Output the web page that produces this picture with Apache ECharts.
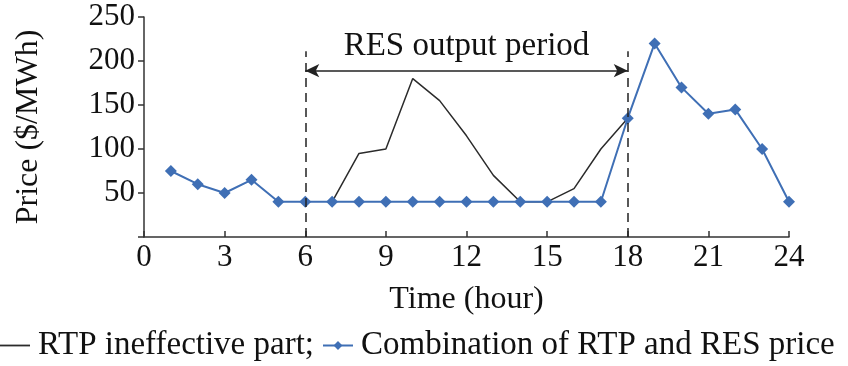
<!DOCTYPE html>
<html>
<head>
<meta charset="utf-8">
<script src="https://cdn.jsdelivr.net/npm/echarts@6/dist/echarts.min.js"></script>
<style>html,body{margin:0;padding:0;background:#fff;}#c{width:848px;height:366px;}</style>
</head>
<body>
<div id="c"></div>
<script>
const hoursRTP = [7, 8, 9, 10, 11, 12, 13, 14, 15, 16, 17, 18];
const rtpIneffective = [40, 95, 100, 180, 155, 115, 70, 40, 40, 55, 100, 135];
const hoursCombo = [1, 2, 3, 4, 5, 6, 7, 8, 9, 10, 11, 12, 13, 14, 15, 16, 17, 18, 19, 20, 21, 22, 23, 24];
const comboPrice = [75, 60, 50, 65, 40, 40, 40, 40, 40, 40, 40, 40, 40, 40, 40, 40, 40, 135, 220, 170, 140, 145, 100, 40];
const resStart = 6, resEnd = 18, dashTop = 211, arrowLevel = 189;
const annotation = 'RES output period';
const seriesNames = ['RTP ineffective part;', 'Combination of RTP and RES price'];

const FONT = 'Liberation Serif';
const BLUE = '#3f6fb5';
const DARK = '#2b2b2b';

const chart = echarts.init(document.getElementById('c'));
chart.setOption({
  animation: false,
  textStyle: { fontFamily: FONT },
  grid: { left: 144, right: 59, top: 17, bottom: 129 },
  legend: {
    left: 0, top: 329, width: 1000, padding: 0,
    itemWidth: 30, itemHeight: 11, itemGap: 8,
    textStyle: { fontFamily: FONT, fontSize: 33, color: '#111', padding: [0, 0, 0, 3] },
    data: [
      { name: seriesNames[0], icon: 'path://M0,0 L30,0 L30,1.8 L0,1.8 Z', itemStyle: { color: DARK } },
      { name: seriesNames[1] }
    ]
  },
  xAxis: {
    type: 'value', min: 0, max: 24, interval: 3,
    name: 'Time (hour)', nameLocation: 'middle', nameGap: 47,
    nameTextStyle: { fontFamily: FONT, fontSize: 32, color: '#111' },
    axisLine: { lineStyle: { color: '#333', width: 1.5 } },
    axisTick: { inside: true, length: 6, lineStyle: { color: '#333', width: 1.5 } },
    axisLabel: { fontFamily: FONT, fontSize: 31, color: '#111', margin: 5 },
    splitLine: { show: false }
  },
  yAxis: {
    type: 'value', min: 0, max: 250, interval: 50,
    name: 'Price ($/MWh)', nameLocation: 'middle', nameGap: 99, nameRotate: 90,
    nameTextStyle: { fontFamily: FONT, fontSize: 32, color: '#111' },
    axisLine: { show: true, lineStyle: { color: '#333', width: 1.5 } },
    axisTick: { show: true, inside: false, length: 6, lineStyle: { color: '#333', width: 1.5 } },
    axisLabel: { fontFamily: FONT, fontSize: 31, color: '#111', margin: 9,
      formatter: v => v === 0 ? '' : v },
    splitLine: { show: false }
  },
  series: [
    {
      name: seriesNames[0], type: 'line',
      data: hoursRTP.map((h, i) => [h, rtpIneffective[i]]),
      symbol: 'none',
      lineStyle: { color: DARK, width: 1.5 }, itemStyle: { color: DARK },
      z: 2,
      markLine: {
        silent: true, animation: false,
        symbol: ['none', 'none'],
        lineStyle: { color: '#222', type: [9, 6], width: 1.5 },
        label: { show: false },
        data: [
          [{ coord: [resStart, 0] }, { coord: [resStart, dashTop] }],
          [{ coord: [resEnd, 0] }, { coord: [resEnd, dashTop] }]
        ]
      }
    },
    {
      name: seriesNames[1], type: 'line',
      data: hoursCombo.map((h, i) => [h, comboPrice[i]]),
      symbol: 'diamond', symbolSize: 12,
      lineStyle: { color: BLUE, width: 2 }, itemStyle: { color: BLUE },
      z: 3
    },
    {
      name: 'annot', type: 'line', data: [],
      markLine: {
        silent: true, animation: false,
        symbol: ['arrow', 'arrow'], symbolSize: [10, 14],
        lineStyle: { color: '#222', type: 'solid', width: 1.5 },
        label: { show: true, position: 'insideMiddleTop', distance: 8,
          formatter: annotation, fontFamily: FONT, fontSize: 33, color: '#111' },
        data: [
          [{ coord: [resStart, arrowLevel] }, { coord: [resEnd, arrowLevel] }]
        ]
      }
    }
  ]
});
</script>
</body>
</html>
